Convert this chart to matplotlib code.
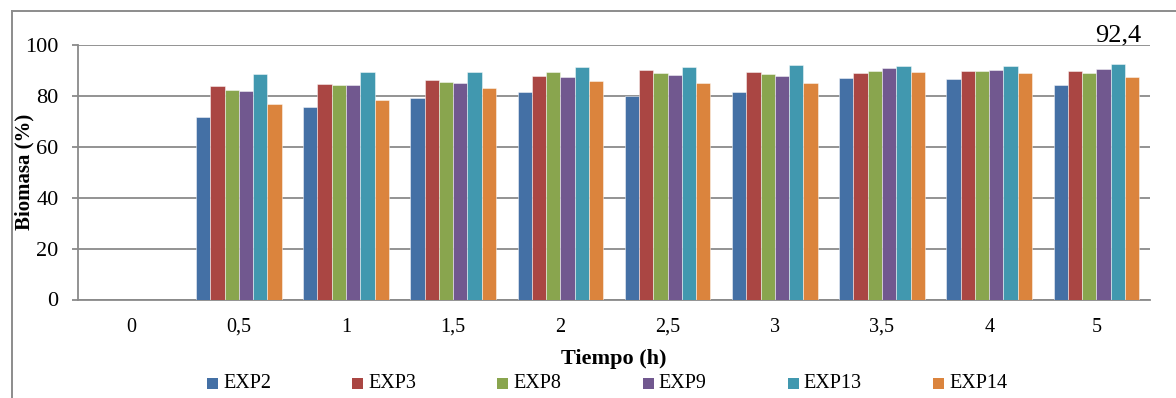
import numpy as np
import matplotlib
matplotlib.use("Agg")
import matplotlib.pyplot as plt
from matplotlib.lines import Line2D
from matplotlib.patches import Rectangle

plt.rcParams['font.family'] = ['Liberation Serif', 'DejaVu Serif']

# Sampling times (h) and biomass (%) per experiment
tiempos = ["0", "0,5", "1", "1,5", "2", "2,5", "3", "3,5", "4", "5"]
series = ["EXP2", "EXP3", "EXP8", "EXP9", "EXP13", "EXP14"]
exp2 = [0, 71.7, 75.6, 79.2, 81.4, 80.0, 81.7, 87.2, 86.5, 84.2]
exp3 = [0, 83.8, 84.7, 86.1, 87.9, 90.2, 89.3, 89.1, 89.8, 89.8]
exp8 = [0, 82.2, 84.4, 85.3, 89.2, 88.9, 88.5, 89.8, 89.8, 89.1]
exp9 = [0, 81.9, 84.4, 85.0, 87.3, 88.1, 87.7, 90.8, 90.0, 90.5]
exp13 = [0, 88.7, 89.5, 89.5, 91.5, 91.5, 92.1, 91.7, 91.7, 92.4]
exp14 = [0, 76.8, 78.3, 83.2, 85.9, 84.9, 84.9, 89.4, 89.1, 87.4]
colores = ["#4470A5", "#AA4643", "#89A54E", "#71588F", "#4198AF", "#DB843D"]

valores = [exp2, exp3, exp8, exp9, exp13, exp14]

W, H = 1176, 398
fig = plt.figure(figsize=(W / 100, H / 100), dpi=100)
ax = fig.add_axes([78 / W, 1 - 299.5 / H, (1150 - 78) / W, (299.5 - 45) / H])

x = np.arange(len(tiempos))
grupo = 0.8
ancho = grupo / len(series)
barras = []
for i, (nombre, vals, c) in enumerate(zip(series, valores, colores)):
    off = -grupo / 2 + ancho * (i + 0.5)
    b = ax.bar(x + off, vals, width=ancho, color=c, edgecolor=(1, 1, 1, 0.55),
               linewidth=0.6, zorder=3, label=nombre)
    barras.append(b)

ax.set_xlim(-0.5, len(tiempos) - 0.5)
ax.set_ylim(0, 100)
ax.set_yticks(np.arange(0, 101, 20))
ax.set_xticks(x)
ax.set_xticklabels(tiempos)

grid_c = "#8a8a8a"
ax.yaxis.grid(True, color=grid_c, linewidth=1.3, zorder=0)
ax.set_axisbelow(True)
for s in ("top", "right"):
    ax.spines[s].set_visible(False)
for s in ("left", "bottom"):
    ax.spines[s].set_color(grid_c)
    ax.spines[s].set_linewidth(1.3)
ax.tick_params(axis="y", length=4.5, width=1.3, color=grid_c, pad=9.5,
               labelsize=16)
ax.tick_params(axis="x", length=0, pad=13, labelsize=14.5)

# Value label on the EXP13 bar at 5 h
rect13 = barras[4][len(tiempos) - 1]
ax.annotate("92,4", (rect13.get_x() + rect13.get_width() / 2, exp13[-1]),
            xytext=(0, 13), textcoords="offset points", ha="center", va="bottom",
            fontsize=19, annotation_clip=False)

# Axis titles
fig.text(614 / W, 1 - 359 / H, "Tiempo (h)", ha="center", va="center",
         fontsize=16, fontweight="bold")
fig.text(24 / W, 1 - 172 / H, "Biomasa (%)", ha="center", va="center",
         rotation=90, fontsize=15, fontweight="bold")

# Legend laid out in evenly spaced entries
for i, (nombre, c) in enumerate(zip(series, colores)):
    x0 = 207 + 145.2 * i
    fig.add_artist(Rectangle((x0 / W, 1 - 389 / H), 11 / W, 11 / H,
                             transform=fig.transFigure, facecolor=c,
                             edgecolor="none"))
    fig.text((x0 + 16) / W, 1 - 384 / H, nombre, ha="left", va="center",
             fontsize=14.5)

# Chart frame
frame_c = "#8c8c8c"
fig.add_artist(Line2D([12 / W, 1], [1 - 11 / H, 1 - 11 / H], transform=fig.transFigure,
                      color=frame_c, linewidth=1.4))
fig.add_artist(Line2D([12 / W, 12 / W], [1 - 11 / H, 0], transform=fig.transFigure,
                      color=frame_c, linewidth=1.4))

fig.savefig("out.png", dpi=100, facecolor="white")
